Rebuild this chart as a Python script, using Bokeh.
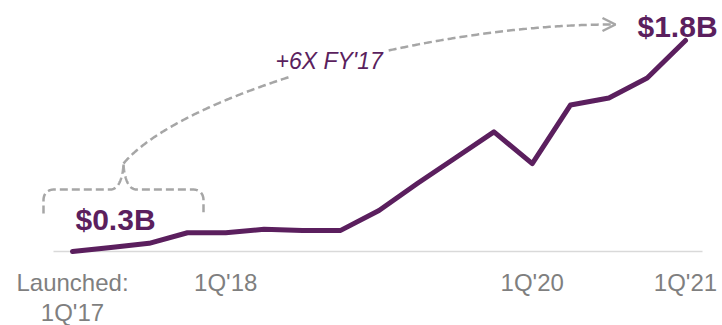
import numpy as np
from bokeh.plotting import figure
from bokeh.models import Range1d, Arrow, OpenHead
from bokeh.core.properties import value
from bokeh.embed import file_html
from bokeh.resources import INLINE

# ---------------- data ----------------
quarters = ["1Q'17", "2Q'17", "3Q'17", "4Q'17",
            "1Q'18", "2Q'18", "3Q'18", "4Q'18",
            "1Q'19", "2Q'19", "3Q'19", "4Q'19",
            "1Q'20", "2Q'20", "3Q'20", "4Q'20",
            "1Q'21"]
revenue_b = [0.00, 0.035, 0.07, 0.16,
             0.16, 0.19, 0.18, 0.18,
             0.35, 0.58, 0.80, 1.02,
             0.75, 1.25, 1.31, 1.48,
             1.80]
tick_quarters = ["1Q'17", "1Q'18", "1Q'20", "1Q'21"]
tick_labels = ["Launched:\n1Q'17", "1Q'18", "1Q'20", "1Q'21"]
start_label = "$0.3B"
end_label = "$1.8B"
growth_label = "+6X FY'17"

PURPLE = "#5b1f5e"
GRAY_TXT = "#7f7f7f"
GRAY_DASH = "#a6a6a6"
FONT = "Liberation Sans"

W, H = 722, 325
# pixel <-> data mapping (frame fills the canvas)
PX0, DPX = 72.0, (685.0 - 72.0) / 16.0
PY0, DPY = 251.0, (251.0 - 40.0) / 1.8
TXT_SHIFT = 11  # svg text baseline correction (px)


def X(px):
    return (px - PX0) / DPX


def Y(py):
    return (PY0 - py) / DPY


def TY(py):
    return Y(py - TXT_SHIFT)


def bez(p0, c0, c1, p1, n=40):
    t = np.linspace(0, 1, n)[:, None]
    p0, c0, c1, p1 = map(np.array, (p0, c0, c1, p1))
    pts = ((1 - t) ** 3) * p0 + 3 * ((1 - t) ** 2) * t * c0 + 3 * (1 - t) * t ** 2 * c1 + t ** 3 * p1
    return [tuple(r) for r in pts]


p = figure(width=W, height=H, output_backend="svg", toolbar_location=None,
           x_range=Range1d(X(0), X(W)), y_range=Range1d(Y(H), Y(0)),
           min_border=0, outline_line_color=None)
p.axis.visible = False
p.grid.visible = False
p.background_fill_color = "white"
p.border_fill_color = "white"

xi = list(range(len(quarters)))

# baseline axis line
p.line([X(53), X(702)], [0, 0], line_color="#d9d9d9", line_width=1.5)

# main line
p.line(xi, revenue_b, line_color=PURPLE, line_width=5, line_join="round", line_cap="round")

# tick labels
tick_x = [quarters.index(q) for q in tick_quarters]
first = [t.split("\n")[0] for t in tick_labels]
p.text(x=tick_x, y=[TY(293)] * len(tick_x), text=first,
       text_font=value(FONT), text_font_size="24px", text_color=GRAY_TXT,
       text_align="center", text_baseline="alphabetic")
sec_x = [tx for tx, t in zip(tick_x, tick_labels) if "\n" in t]
sec_t = [t.split("\n")[1] for t in tick_labels if "\n" in t]
p.text(x=sec_x, y=[TY(323)] * len(sec_x), text=sec_t,
       text_font=value(FONT), text_font_size="24px", text_color=GRAY_TXT,
       text_align="center", text_baseline="alphabetic")

# value labels
p.text(x=[X(75)], y=[TY(230)], text=[start_label], text_font=value(FONT),
       text_font_size="30px", text_font_style="bold", text_color=PURPLE,
       text_align="left", text_baseline="alphabetic")
p.text(x=[X(637)], y=[TY(37)], text=[end_label], text_font=value(FONT),
       text_font_size="30px", text_font_style="bold", text_color=PURPLE,
       text_align="left", text_baseline="alphabetic")

# growth label
p.text(x=[X(275)], y=[TY(71)], text=[growth_label], text_font=value(FONT),
       text_font_size="23px", text_font_style="italic", text_color=PURPLE,
       text_align="left", text_baseline="alphabetic")

dash_kw = dict(line_color=GRAY_DASH, line_width=2.5, line_dash="8 4")

# curly brace
left = [(43, 213), (43, 200)] + bez((43, 200), (43, 193), (47, 189), (54, 189)) + \
       [(110, 189)] + bez((110, 189), (118, 189), (122, 178), (123, 164))
right = bez((123, 164), (124, 178), (128, 189), (136, 189)) + [(192, 189)] + \
        bez((192, 189), (199, 189), (203, 193), (203, 200)) + [(203, 213)]
for seg in (left, right):
    p.line([X(a) for a, b in seg], [Y(b) for a, b in seg], **dash_kw)

# growth arc
arc = bez((123, 163), (180, 95), (420, 24), (612, 24), n=300)
seg1 = [pt for pt in arc if pt[0] <= 290]
seg2 = [pt for pt in arc if pt[0] >= 387]
for seg in (seg1, seg2):
    p.line([X(a) for a, b in seg], [Y(b) for a, b in seg], **dash_kw)

p.add_layout(Arrow(end=OpenHead(size=13, line_color=GRAY_DASH, line_width=2.5),
                   x_start=X(600), y_start=Y(24), x_end=X(615), y_end=Y(24),
                   line_alpha=0))

open("out.html", "w").write(file_html(p, INLINE))
